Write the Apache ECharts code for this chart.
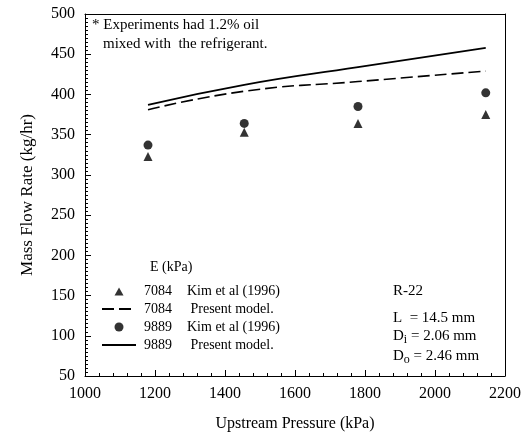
<!DOCTYPE html>
<html>
<head>
<meta charset="utf-8">
<script src="https://cdn.jsdelivr.net/npm/echarts@6/dist/echarts.min.js"></script>
<style>
  html, body { margin: 0; padding: 0; background: #fff; }
  #main { width: 532px; height: 442px; }
</style>
</head>
<body>
<div id="main"></div>
<script>
// data
const pressure = [1180, 1455, 1780, 2145];
const kim7084 = [323, 353, 364, 375];
const kim9889 = [337, 364, 385, 402];
const model7084 = [381, 404, 416, 429];
const model9889 = [387, 412, 434, 458];
const xTicks = [1000, 1200, 1400, 1600, 1800, 2000, 2200];
const yTicks = [50, 100, 150, 200, 250, 300, 350, 400, 450, 500];

const serif = 'Liberation Serif';
const pairs = arr => pressure.map((p, i) => [p, arr[i]]);
const hideSymbol = { opacity: 0, color: 'rgba(0,0,0,0)', borderWidth: 0 };
// small triangle centred in the 34x9 legend box (the moveTo points keep the box size)
const legendTriangle = 'path://M0,0M34,9M12.5,9L17,1L21.5,9Z';

const xMin = xTicks[0], xMax = xTicks[xTicks.length - 1];
const yMin = yTicks[0], yMax = yTicks[yTicks.length - 1];

// plain frame axes for the top and right edges
const frameX = {
  type: 'value', position: 'top', min: xMin, max: xMax, interval: 200,
  axisLine: { show: true, onZero: false, lineStyle: { color: '#000' } },
  axisTick: { show: false }, axisLabel: { show: false }, splitLine: { show: false }
};
const frameY = {
  type: 'value', position: 'right', min: yMin, max: yMax, interval: 50,
  axisLine: { show: true, onZero: false, lineStyle: { color: '#000' } },
  axisTick: { show: false }, axisLabel: { show: false }, splitLine: { show: false }
};

let chart = echarts.init(document.getElementById('main'));

let option = {
  animation: false,
  backgroundColor: '#fff',
  textStyle: { fontFamily: serif, color: '#000' },
  grid: { left: 85, right: 27, top: 14, bottom: 66 },
  xAxis: [{
    type: 'value', position: 'bottom',
    min: xMin, max: xMax, interval: 200,
    name: 'Upstream Pressure (kPa)',
    nameLocation: 'middle', nameGap: 40,
    nameTextStyle: { fontFamily: serif, fontSize: 16, color: '#000' },
    axisLine: { show: true, onZero: false, lineStyle: { color: '#000' } },
    axisTick: { show: true, inside: true, length: 6, lineStyle: { color: '#000' } },
    minorTick: { show: true, splitNumber: 5, length: 3, lineStyle: { color: '#000' } },
    axisLabel: { fontFamily: serif, fontSize: 16, color: '#000', margin: 10, formatter: v => String(v) },
    splitLine: { show: false }
  }, frameX],
  yAxis: [{
    type: 'value', position: 'left',
    min: yMin, max: yMax, interval: 50,
    name: 'Mass Flow Rate (kg/hr)',
    nameLocation: 'middle', nameGap: 49,
    nameTextStyle: { fontFamily: serif, fontSize: 17, color: '#000' },
    axisLine: { show: true, onZero: false, lineStyle: { color: '#000' } },
    axisTick: { show: true, inside: true, length: 6, lineStyle: { color: '#000' } },
    minorTick: { show: true, splitNumber: 10, length: 3, lineStyle: { color: '#000' } },
    axisLabel: { fontFamily: serif, fontSize: 16, color: '#000', margin: 10, formatter: v => String(v) },
    splitLine: { show: false }
  }, frameY],
  legend: {
    orient: 'vertical',
    left: 101, top: 284, padding: 0,
    itemWidth: 34, itemHeight: 9, itemGap: 4,
    data: [
      { name: '7084 Kim et al (1996)', icon: legendTriangle },
      { name: '7084 Present model.', itemStyle: hideSymbol },
      { name: '9889 Kim et al (1996)', icon: 'circle' },
      { name: '9889 Present model.', itemStyle: hideSymbol }
    ],
    formatter: function (name) {
      let i = name.indexOf(' ');
      let rest = name.slice(i + 1);
      if (rest.indexOf('Present') === 0) rest = ' ' + rest;
      return '{a|' + name.slice(0, i) + '}{b|' + rest + '}';
    },
    textStyle: {
      rich: {
        a: { fontFamily: serif, fontSize: 14, color: '#000', width: 43, padding: [0, 0, 0, 3], lineHeight: 16 },
        b: { fontFamily: serif, fontSize: 14, color: '#000', lineHeight: 16 }
      }
    }
  },
  graphic: [
    { type: 'text', left: 92, top: 18, style: { text: '* Experiments had 1.2% oil', font: '15px "Liberation Serif"', fill: '#000' } },
    { type: 'text', left: 103, top: 37, style: { text: 'mixed with  the refrigerant.', font: '15px "Liberation Serif"', fill: '#000' } },
    { type: 'text', left: 150, top: 260, style: { text: 'E (kPa)', font: '14px "Liberation Serif"', fill: '#000' } },
    { type: 'text', left: 393, top: 284, style: { text: 'R-22', font: '15px "Liberation Serif"', fill: '#000' } },
    { type: 'text', left: 393, top: 311, style: { text: 'L  = 14.5 mm', font: '15px "Liberation Serif"', fill: '#000' } },
    {
      type: 'text', left: 393, top: 329,
      style: {
        text: '{n|D}{s|i}{n| = 2.06 mm}',
        rich: {
          n: { fontFamily: serif, fontSize: 15, fill: '#000' },
          s: { fontFamily: serif, fontSize: 12, fill: '#000', padding: [7, 0, 0, 0] }
        }
      }
    },
    {
      type: 'text', left: 393, top: 349,
      style: {
        text: '{n|D}{s|o}{n| = 2.46 mm}',
        rich: {
          n: { fontFamily: serif, fontSize: 15, fill: '#000' },
          s: { fontFamily: serif, fontSize: 12, fill: '#000', padding: [7, 0, 0, 0] }
        }
      }
    }
  ],
  series: [
    {
      name: '7084 Kim et al (1996)', type: 'scatter',
      symbol: 'triangle', symbolSize: 9,
      itemStyle: { color: '#000' },
      data: pairs(kim7084)
    },
    {
      name: '7084 Present model.', type: 'line',
      symbol: 'none', smooth: true,
      lineStyle: { color: '#000', width: 1.6, type: [12, 5] },
      itemStyle: { color: '#000' },
      data: pairs(model7084)
    },
    {
      name: '9889 Kim et al (1996)', type: 'scatter',
      symbol: 'circle', symbolSize: 9,
      itemStyle: { color: '#000' },
      data: pairs(kim9889)
    },
    {
      name: '9889 Present model.', type: 'line',
      symbol: 'none', smooth: true,
      lineStyle: { color: '#000', width: 1.8 },
      itemStyle: { color: '#000' },
      data: pairs(model9889)
    }
  ]
};

chart.setOption(option);
</script>
</body>
</html>
